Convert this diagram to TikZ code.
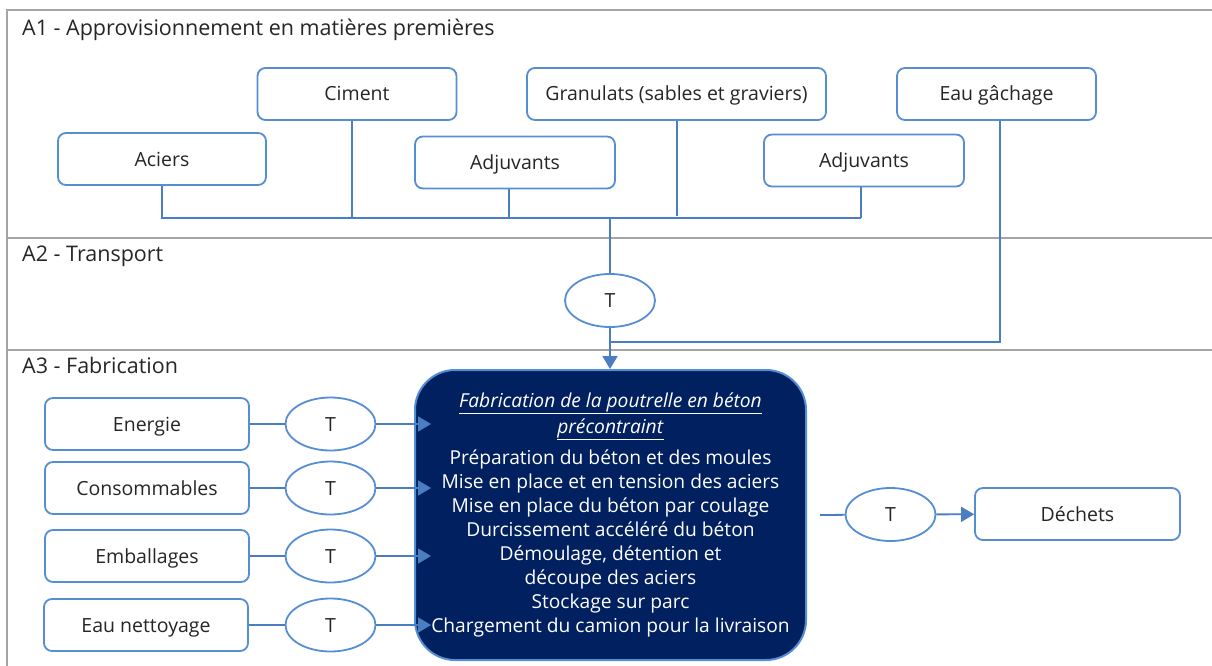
\documentclass[tikz,border=0pt]{standalone}
\usepackage{fontspec}
\setmainfont{Open Sans}
\usetikzlibrary{shapes.geometric,arrows.meta,calc}
\definecolor{boxblue}{RGB}{85,142,213}
\definecolor{linkblue}{RGB}{74,126,193}
\definecolor{navy}{RGB}{0,32,96}
\definecolor{framegrey}{RGB}{165,165,165}
\definecolor{txt}{RGB}{38,38,38}
\begin{document}
\begin{tikzpicture}[x=1pt,y=-1pt,
  box/.style={draw=boxblue,line width=1.8pt,rounded corners=8pt,fill=white,text=txt,
    minimum height=52pt,inner sep=0pt,text height=14pt,text depth=0pt,
    font=\fontsize{19.5}{23}\selectfont},
  tnode/.style={draw=boxblue,ellipse,line width=1.8pt,minimum width=90pt,minimum height=53pt,
    inner sep=0pt,fill=white,text=txt,text height=14pt,text depth=0pt,
    font=\fontsize{19.5}{23}\selectfont},
  link/.style={draw=linkblue,line width=1.8pt},
  arr/.style={link,-{Triangle[length=13pt,width=15pt]}},
  frameline/.style={draw=framegrey,line width=2.2pt},
  lbl/.style={anchor=base west,text=txt,inner sep=0pt,font=\fontsize{21.5}{25}\selectfont}
]
\useasboundingbox (0,0) rectangle (1212,666);
% frame
\draw[frameline] (1212,10) -- (7,10) -- (7,666);
\draw[frameline] (7,238) -- (1212,238);
\draw[frameline] (7,350) -- (1212,350);
\node[lbl] (la1) at (22,36) {A1 - Approvisionnement en matières premières};
\node[lbl] (la2) at (22,261) {A2 - Transport};
\node[lbl] (la3) at (22,373) {A3 - Fabrication};
% A1 boxes
\node[box,minimum width=199pt] (ciment) at (357,94) {Ciment};
\node[box,minimum width=299pt] (gran) at (676.5,94) {Granulats (sables et graviers)};
\node[box,minimum width=199pt] (eau) at (996.5,94) {Eau gâchage};
\node[box,minimum width=208pt] (aciers) at (162,159) {Aciers};
\node[box,minimum width=200pt] (adja) at (515,162.5) {Adjuvants};
\node[box,minimum width=200pt] (adjb) at (864,160.5) {Adjuvants};
\coordinate (busL) at (162,218);
\coordinate (busR) at (861,218);
\coordinate (busM) at (610,218);
\draw[link] (aciers.south) -- (aciers.south |- busL) -- (busR);
\draw[link] ([xshift=-5pt]ciment.south) -- ([xshift=-5pt]ciment.south |- busL);
\draw[link] ([xshift=-6pt]adja.south) -- ([xshift=-6pt]adja.south |- busL);
\draw[link] ([xshift=0.5pt]gran.south) -- ([xshift=0.5pt,yshift=2pt]gran.south |- busL);
\draw[link] ([xshift=-3pt]adjb.south) -- ([xshift=-3pt]adjb.south |- busL);
% A2
\node[tnode] (ttop) at (610,300.5) {T};
\coordinate (join) at (610,342);
\draw[link] (busM) -- (ttop);
\draw[link] ([xshift=3.5pt]eau.south) |- (join);
% A3 main box
\node[draw=boxblue,line width=2pt,fill=navy,rounded corners=40pt,minimum width=391pt,
  minimum height=290pt,text=white,align=center,inner sep=0pt,
  font=\fontsize{19.2}{24}\selectfont] (main) at (610.5,515)
  {\underline{\textit{Fabrication de la poutrelle en béton}}\\[2pt]
   \underline{\textit{précontraint}}\\[7pt]
   Préparation du béton et des moules\\
   Mise en place et en tension des aciers\\
   Mise en place du béton par coulage\\
   Durcissement accéléré du béton\\
   Démoulage, détention et\\
   découpe des aciers\\
   Stockage sur parc\\
   Chargement du camion pour la livraison};
\draw[arr] (ttop) -- (ttop |- main.north);
% inputs
\coordinate (tipx) at (431,0);
\node[box,minimum width=204pt] (ene) at (147,424) {Energie};
\node[box,minimum width=204pt] (con) at (147,488) {Consommables};
\node[box,minimum width=204pt] (emb) at (147,556) {Emballages};
\node[box,minimum width=204pt] (eaun) at (146,625) {Eau nettoyage};
\node[tnode] (t1) at (330.5,424) {T};
\node[tnode] (t2) at (330.5,488) {T};
\node[tnode] (t3) at (330.5,556) {T};
\node[tnode] (t4) at (330.5,625) {T};
\draw[link] (ene) -- (t1);
\draw[link] (con) -- (t2);
\draw[link] (emb) -- (t3);
\draw[link] (eaun) -- (t4);
\draw[arr] (t1) -- (t1 -| tipx);
\draw[arr] (t2) -- (t2 -| tipx);
\draw[arr] (t3) -- (t3 -| tipx);
\draw[arr] (t4) -- (t4 -| tipx);
% output
\coordinate (outstart) at (820,515);
\node[tnode] (tout) at (890.5,514.5) {T};
\node[box,minimum width=205pt] (dech) at (1077.5,514) {Déchets};
\draw[link] (outstart) -- (tout);
\draw[arr] (tout) -- (dech);
\end{tikzpicture}
\end{document}
